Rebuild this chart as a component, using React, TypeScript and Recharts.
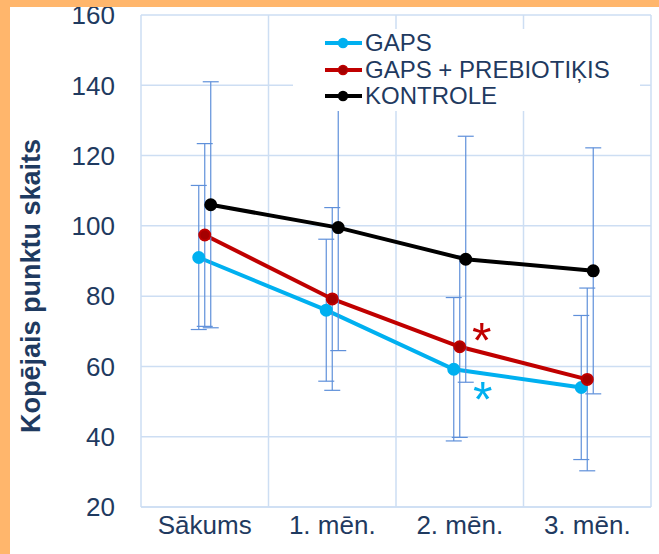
import { CartesianGrid, ErrorBar, Label, Line, LineChart, ReferenceLine, XAxis, YAxis } from 'recharts'

const categories = ['Sākums', '1. mēn.', '2. mēn.', '3. mēn.']
const yTicks = [20, 40, 60, 80, 100, 120, 140, 160]

const gapsMean = [91, 76, 59.2, 54]
const gapsSd = [20.5, 20.2, 20.4, 20.5]
const gapsSig = ['', '', '*', '']

const prebMean = [97.4, 79.2, 65.6, 56.3]
const prebSd = [26, 26, 25.8, 26]
const prebSig = ['', '', '*', '']

const kontrMean = [106, 99.5, 90.5, 87.2]
const kontrSd = [35, 35, 35, 35]

const bandEdges = [0.5, 1.5, 2.5, 3.5]

const GRID = '#cddef3'
const ERR = '#5f90da'
const TEXT = '#1f3a60'
const FONT = '"Liberation Sans", Arial, sans-serif'

const toRows = (mean: number[], sd: number[], shift: number) =>
  mean.map((m, i) => ({ x: i + shift, y: m, err: sd[i] }))

const series = [
  { name: 'GAPS', color: '#00b0f0', dotFill: '#00b0f0', rows: toRows(gapsMean, gapsSd, -0.047), sig: gapsSig, dx: 29, dy: 48 },
  { name: 'GAPS + PREBIOTIĶIS', color: '#c00000', dotFill: '#a40000', rows: toRows(prebMean, prebSd, 0), sig: prebSig, dx: 22, dy: 11 },
  { name: 'KONTROLE', color: '#000000', dotFill: '#000000', rows: toRows(kontrMean, kontrSd, 0.047), sig: null, dx: 0, dy: 0 },
]

function LegendBox() {
  return (
    <div
      style={{
        position: 'absolute',
        left: 293,
        top: 29,
        background: '#fff',
        width: 347,
        height: 82,
        boxSizing: 'border-box',
        paddingTop: 1,
        paddingLeft: 32,
      }}
    >
      {series.map(s => (
        <div key={s.name} style={{ display: 'flex', alignItems: 'center', height: 26.5 }}>
          <svg width={38} height={12} style={{ marginRight: 2 }}>
            <line x1={0} y1={6} x2={37} y2={6} stroke={s.color} strokeWidth={4} />
            <circle cx={18} cy={6} r={4.5} fill={s.dotFill} stroke={s.color} strokeWidth={1.5} />
          </svg>
          <span style={{ fontFamily: FONT, fontSize: 24, color: TEXT, lineHeight: 1 }}>{s.name}</span>
        </div>
      ))}
    </div>
  )
}

export default function App() {
  return (
    <div style={{ position: 'absolute', left: 0, top: 0, width: 659, height: 554, background: '#fff' }}>
      <LineChart width={659} height={554} margin={{ top: 15, right: 8, bottom: 17, left: 0 }}>
        <CartesianGrid vertical={false} stroke={GRID} strokeWidth={1.5} />
        {bandEdges.map(b => (
          <ReferenceLine key={b} x={b} stroke={GRID} strokeWidth={1.5} />
        ))}
        <XAxis
          type="number"
          dataKey="x"
          domain={[-0.5, 3.5]}
          ticks={[0, 1, 2, 3]}
          tickFormatter={i => categories[i]}
          allowDataOverflow
          height={30}
          stroke={GRID}
          strokeWidth={1.5}
          tickLine={false}
          tickMargin={3}
          tick={{ fill: TEXT, fontSize: 26, fontFamily: FONT }}
        />
        <YAxis
          type="number"
          domain={[20, 160]}
          ticks={yTicks}
          width={141}
          stroke={GRID}
          strokeWidth={1.5}
          tickLine={false}
          tickMargin={20}
          tick={{ fill: TEXT, fontSize: 26, fontFamily: FONT }}
        >
          <Label
            content={() => (
              <text
                transform="translate(31,286) rotate(-90)"
                textAnchor="middle"
                dominantBaseline="central"
                fill={TEXT}
                fontFamily={FONT}
                fontWeight="bold"
                fontSize={27}
              >
                Kopējais punktu skaits
              </text>
            )}
          />
        </YAxis>
        {series.map(s => (
          <Line
            key={s.name}
            data={s.rows}
            dataKey="y"
            name={s.name}
            stroke={s.color}
            strokeWidth={4}
            dot={{ r: 5.5, fill: s.dotFill, stroke: s.color, strokeWidth: 2 }}
            activeDot={false}
            isAnimationActive={false}
            label={(p: any) =>
              s.sig && s.sig[p.index] ? (
                <text
                  key={p.index}
                  x={p.x + s.dx}
                  y={p.y + s.dy}
                  textAnchor="middle"
                  fill={s.color}
                  fontFamily={FONT}
                  fontSize={50}
                >
                  {s.sig[p.index]}
                </text>
              ) : (
                <g key={p.index} />
              )
            }
          >
            <ErrorBar dataKey="err" direction="y" width={8} stroke={ERR} strokeWidth={1.2} />
          </Line>
        ))}
      </LineChart>
      <LegendBox />
      <div style={{ position: 'absolute', left: 0, top: 0, width: 659, height: 7, background: '#ffb66c' }} />
      <div style={{ position: 'absolute', left: 0, top: 0, width: 10, height: 554, background: '#ffb66c' }} />
    </div>
  )
}
